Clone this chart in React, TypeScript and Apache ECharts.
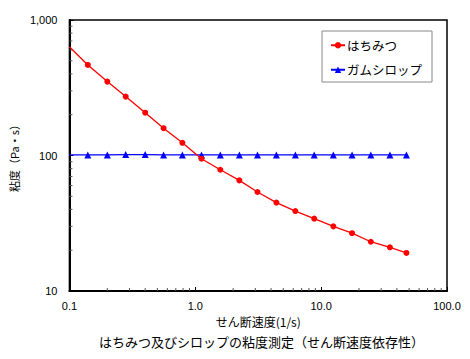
import React, { useEffect, useRef } from "react";
import * as echarts from "echarts";

const shearRates = [0.1, 0.14, 0.2, 0.28, 0.4, 0.56, 0.79, 1.12, 1.58, 2.24, 3.12, 4.41, 6.24, 8.81, 12.5, 17.6, 24.8, 35.2, 47.6];
const honey = [635, 466, 351, 272, 207, 159, 124, 94.6, 78.5, 65.5, 53.8, 44.9, 38.9, 34.2, 30.0, 26.7, 23.1, 21.0, 19.1];
const syrup = [101, 101, 101, 101.5, 101.5, 101, 101, 101, 101, 101, 101, 101, 101, 101, 101, 101, 101, 101, 101];
const xTickLabels = ["0.1", "1.0", "10.0", "100.0"];
const yTickLabels = ["10", "100", "1,000"];
const xMinorTicks = [0.2, 0.3, 0.4, 0.5, 0.6, 0.7, 0.8, 0.9, 2, 3, 4, 5, 6, 7, 8, 9, 20, 30, 40, 50, 60, 70, 80, 90];
const yMinorTicks = [20, 30, 40, 50, 60, 70, 80, 90, 200, 300, 400, 500, 600, 700, 800, 900];

const JP = "'Noto Sans CJK JP', sans-serif";
const NUM = "'Liberation Sans', 'Noto Sans CJK JP', sans-serif";

export default function App() {
  const ref = useRef<HTMLDivElement>(null);
  useEffect(() => {
    if (!ref.current) return;
    const chart = echarts.init(ref.current, undefined, { renderer: "svg" });
    const xLabelMap: Record<string, string> = { "0.1": xTickLabels[0], "1": xTickLabels[1], "10": xTickLabels[2], "100": xTickLabels[3] };
    const yLabelMap: Record<string, string> = { "10": yTickLabels[0], "100": yTickLabels[1], "1000": yTickLabels[2] };
    const tickData = [
      ...xMinorTicks.map((v) => [v, 10, 0]),
      ...yMinorTicks.map((v) => [0.1, v, 1]),
    ];
    chart.setOption({
      animation: false,
      title: {
        text: "はちみつ及びシロップの粘度測定（せん断速度依存性）",
        left: 94,
        top: 330,
        textStyle: { fontFamily: JP, fontSize: 13, fontWeight: "normal", color: "#000" },
      },
      legend: {
        orient: "vertical",
        left: 322,
        top: 31,
        padding: [8, 10, 6, 8],
        itemGap: 12,
        itemWidth: 14,
        itemHeight: 8,
        borderColor: "#888",
        borderWidth: 1,
        textStyle: { fontFamily: JP, fontSize: 12.5, color: "#000", padding: [0, 0, 0, -3] },
        data: ["はちみつ", "ガムシロップ"],
      },
      grid: {
        left: 61,
        top: 20,
        right: 23,
        bottom: 68,
        show: true,
        borderColor: "#000",
        borderWidth: 1.5,
      },
      xAxis: {
        type: "log",
        logBase: 10,
        min: 0.1,
        max: 100,
        name: "せん断速度(1/s)",
        nameLocation: "middle",
        nameGap: 23,
        nameTextStyle: { fontFamily: JP, fontSize: 12, color: "#000" },
        axisLine: { lineStyle: { color: "#000", width: 2 } },
        axisTick: { inside: true, length: 4, lineStyle: { color: "#000" } },
        splitLine: { show: false },
        axisLabel: {
          margin: 9,
          fontFamily: NUM,
          fontSize: 11,
          color: "#000",
          formatter: (v: number) => xLabelMap[String(+v.toPrecision(3))] ?? "",
        },
      },
      yAxis: {
        type: "log",
        logBase: 10,
        min: 10,
        max: 1000,
        name: "粘度（Pa・s）",
        nameLocation: "middle",
        nameGap: 38,
        nameTextStyle: { fontFamily: JP, fontSize: 11, color: "#000" },
        axisLine: { lineStyle: { color: "#000", width: 2 } },
        axisTick: { inside: true, length: 4, lineStyle: { color: "#000" } },
        splitLine: { show: false },
        axisLabel: {
          margin: 12,
          fontFamily: NUM,
          fontSize: 11,
          color: "#000",
          formatter: (v: number) => yLabelMap[String(Math.round(v))] ?? "",
        },
      },
      series: [
        {
          name: "はちみつ",
          type: "line",
          data: shearRates.map((x, i) => (i === 0 ? { value: [x, honey[i]], symbolSize: 0 } : [x, honey[i]])),
          symbol: "circle",
          symbolSize: 6,
          itemStyle: { color: "#ff0000" },
          lineStyle: { color: "#ff0000", width: 1.3 },
          z: 3,
        },
        {
          name: "ガムシロップ",
          type: "line",
          data: shearRates.map((x, i) => (i === 0 ? { value: [x, syrup[i]], symbolSize: 0 } : [x, syrup[i]])),
          symbol: "triangle",
          symbolSize: 7,
          itemStyle: { color: "#0000ff" },
          lineStyle: { color: "#0000ff", width: 1.3 },
          z: 2,
        },
        {
          type: "custom",
          silent: true,
          clip: false,
          data: tickData,
          renderItem: (params: any, api: any) => {
            const p = api.coord([api.value(0), api.value(1)]);
            const isY = api.value(2) === 1;
            return {
              type: "line",
              shape: isY
                ? { x1: p[0], y1: p[1], x2: p[0] + 3, y2: p[1] }
                : { x1: p[0], y1: p[1], x2: p[0], y2: p[1] - 3 },
              style: { stroke: "#555", lineWidth: 1 },
            };
          },
        },
      ],
    });
    return () => chart.dispose();
  }, []);
  return <div ref={ref} style={{ width: 470, height: 359, position: "absolute", left: 0, top: 0 }} />;
}
